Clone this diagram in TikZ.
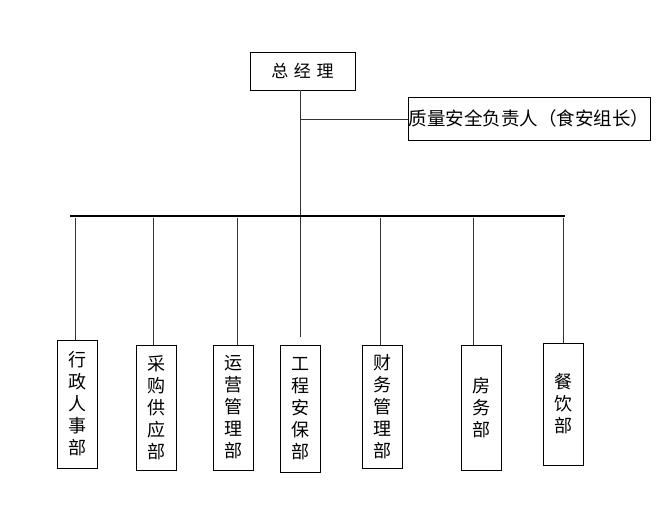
\documentclass[tikz,border=0pt]{standalone}
\usepackage{fontspec}
\newfontfamily\cjk{Noto Sans CJK SC}
\begin{document}
\begin{tikzpicture}[x=1pt,y=-1pt,
  box/.style={draw,thick,minimum width=40pt,inner sep=0pt,font=\cjk\fontsize{18}{22}\selectfont,align=center},
  ln/.style={line width=1pt,black!80}]
\useasboundingbox (0,0) rectangle (656,513);
\node[draw,thick,minimum width=105pt,minimum height=38pt,font=\cjk\fontsize{17}{18}\selectfont] (gm) at (302.5,71) {总\,\,经\,\,理};
\node[draw,thick,minimum width=242pt,minimum height=43pt,inner sep=0pt,font=\cjk\fontsize{18.5}{20}\selectfont] (qa) at (529,118.5) {质量安全负责人（食安组长）};
\coordinate (t1) at (300,120);
\coordinate (t2) at (300,337);
\draw[ln] (gm.south -| t1) -- (t2);
\draw[ln] (t1) -- (qa.west |- t1);
\draw[line width=2.5pt] (70,216) -- (565,216);
\foreach \n/\x/\ya/\yb/\t in {a/77/340/468/行\\政\\人\\事\\部, b/156/345/470/采\\购\\供\\应\\部, c/233/345/470/运\\营\\管\\理\\部, d/300/345/472/工\\程\\安\\保\\部, e/382/345/468/财\\务\\管\\理\\部, f/481/345/470/房\\务\\部, g/563.5/343/465/餐\\饮\\部}{
  \node[box,minimum height=\yb-\ya] (\n) at (\x,{(\ya+\yb)/2}) {\t};
}
\foreach \n/\x in {a/75,b/153,c/237,e/380,f/473,g/563}{
  \coordinate (top\n) at (\x,218);
  \draw[ln] (top\n) -- (top\n |- \n.north);
}
\end{tikzpicture}
\end{document}
